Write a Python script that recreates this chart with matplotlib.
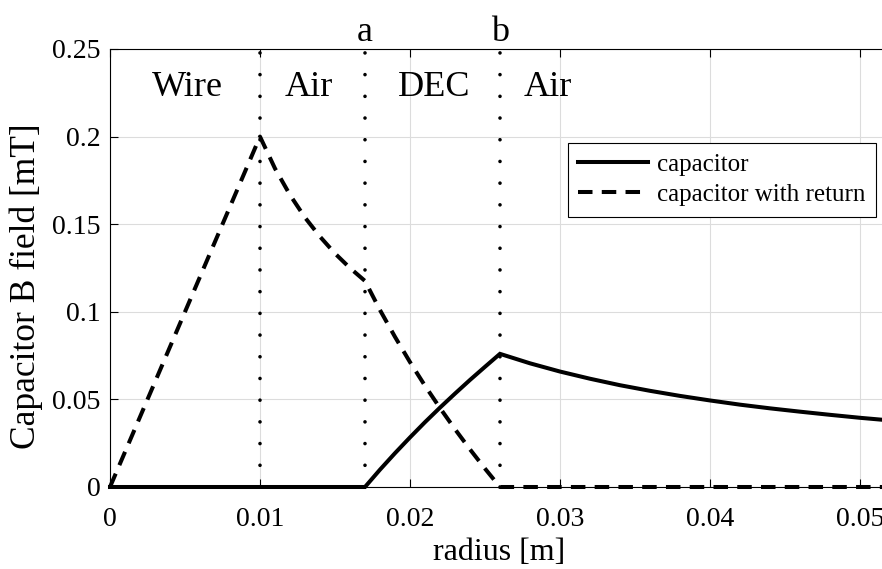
import matplotlib
matplotlib.use("Agg")
import matplotlib.pyplot as plt

# ---- data ----
r_cap = [0.0, 0.017, 0.018, 0.019, 0.020, 0.021, 0.022, 0.023, 0.024, 0.025, 0.026,
         0.028, 0.030, 0.032, 0.034, 0.036, 0.038, 0.040, 0.042, 0.044, 0.046,
         0.048, 0.050, 0.052]
b_cap = [0.0, 0.0, 0.0099, 0.0193, 0.0283, 0.0370, 0.0453, 0.0533, 0.0611, 0.0686, 0.0760,
         0.0706, 0.0659, 0.0618, 0.0581, 0.0549, 0.0520, 0.0494, 0.0470, 0.0449, 0.0430,
         0.0412, 0.0395, 0.0380]

r_ret = [0.0, 0.010, 0.011, 0.012, 0.013, 0.014, 0.015, 0.016, 0.017, 0.018, 0.019,
         0.020, 0.021, 0.022, 0.023, 0.024, 0.025, 0.026, 0.052]
b_ret = [0.0, 0.200, 0.1818, 0.1667, 0.1538, 0.1429, 0.1333, 0.1250, 0.1176, 0.1010, 0.0857,
         0.0713, 0.0578, 0.0451, 0.0330, 0.0215, 0.0105, 0.0, 0.0]

boundaries = [0.010, 0.017, 0.026]
boundary_names = ["", "a", "b"]
region_names = ["Wire", "Air", "DEC", "Air"]
region_x = [0.00517, 0.01327, 0.0216, 0.0292]

xticks = [0.0, 0.01, 0.02, 0.03, 0.04, 0.05]
xticklabels = ["0", "0.01", "0.02", "0.03", "0.04", "0.05"]
yticks = [0.0, 0.05, 0.10, 0.15, 0.20, 0.25]
yticklabels = ["0", "0.05", "0.1", "0.15", "0.2", "0.25"]
series_labels = ["capacitor", "capacitor with return"]

# ---- style ----
plt.rcParams["font.family"] = ["Liberation Serif", "DejaVu Serif"]

W, H = 882, 569
fig = plt.figure(figsize=(W / 100, H / 100), dpi=100)
left, right, top, bottom = 110, 882, 49, 487
ax = fig.add_axes([left / W, 1 - bottom / H, (right - left) / W, (bottom - top) / H])

ax.set_xlim(0, 0.05147)
ax.set_ylim(0, 0.25)

ax.grid(True, color="#dcdcdc", linewidth=0.8)
ax.set_axisbelow(True)

for xb in boundaries:
    ax.plot([xb, xb], [0, 0.25], color="black", linewidth=2.6,
            dashes=(0.01, 6.0), dash_capstyle="round", solid_capstyle="round", zorder=2)

ax.plot(r_cap, b_cap, color="black", linewidth=2.9, label=series_labels[0],
        clip_on=False, zorder=3, solid_joinstyle="miter")
ax.plot(r_ret, b_ret, color="black", linewidth=2.9, dashes=(3.6, 2.3),
        label=series_labels[1], clip_on=False, zorder=4)

for name, xr in zip(region_names, region_x):
    ax.text(xr, 0.2231, name, ha="center", va="baseline", fontsize=26)
for name, xb in zip(boundary_names, boundaries):
    if name:
        ax.text(xb, 0.2546, name, ha="center", va="baseline", fontsize=26, clip_on=False)

ax.set_xticks(xticks)
ax.set_xticklabels(xticklabels)
ax.set_yticks(yticks)
ax.set_yticklabels(yticklabels)
ax.tick_params(axis="both", direction="in", length=5.5, width=0.8, labelsize=20,
               top=True, right=False, colors="black")
ax.tick_params(axis="x", pad=14.5)
ax.tick_params(axis="y", pad=7)

for s in ["left", "bottom", "top"]:
    ax.spines[s].set_linewidth(0.8)
    ax.spines[s].set_color("black")
ax.spines["right"].set_visible(False)

fig.text(26 / W, 1 - 286 / H, "Capacitor B field [mT]", rotation=90,
         ha="center", va="center", fontsize=25.5)
fig.text(499 / W, 1 - 553 / H, "radius [m]", ha="center", va="center", fontsize=23)

leg = ax.legend(loc="upper right", bbox_to_anchor=(0.992, 0.785), borderaxespad=0,
                fontsize=18, handlelength=2.8, handletextpad=0.35, labelspacing=0.3,
                borderpad=0.42, fancybox=False, framealpha=1, edgecolor="black")
leg.get_frame().set_linewidth(0.8)

fig.savefig("out.png", dpi=100)
